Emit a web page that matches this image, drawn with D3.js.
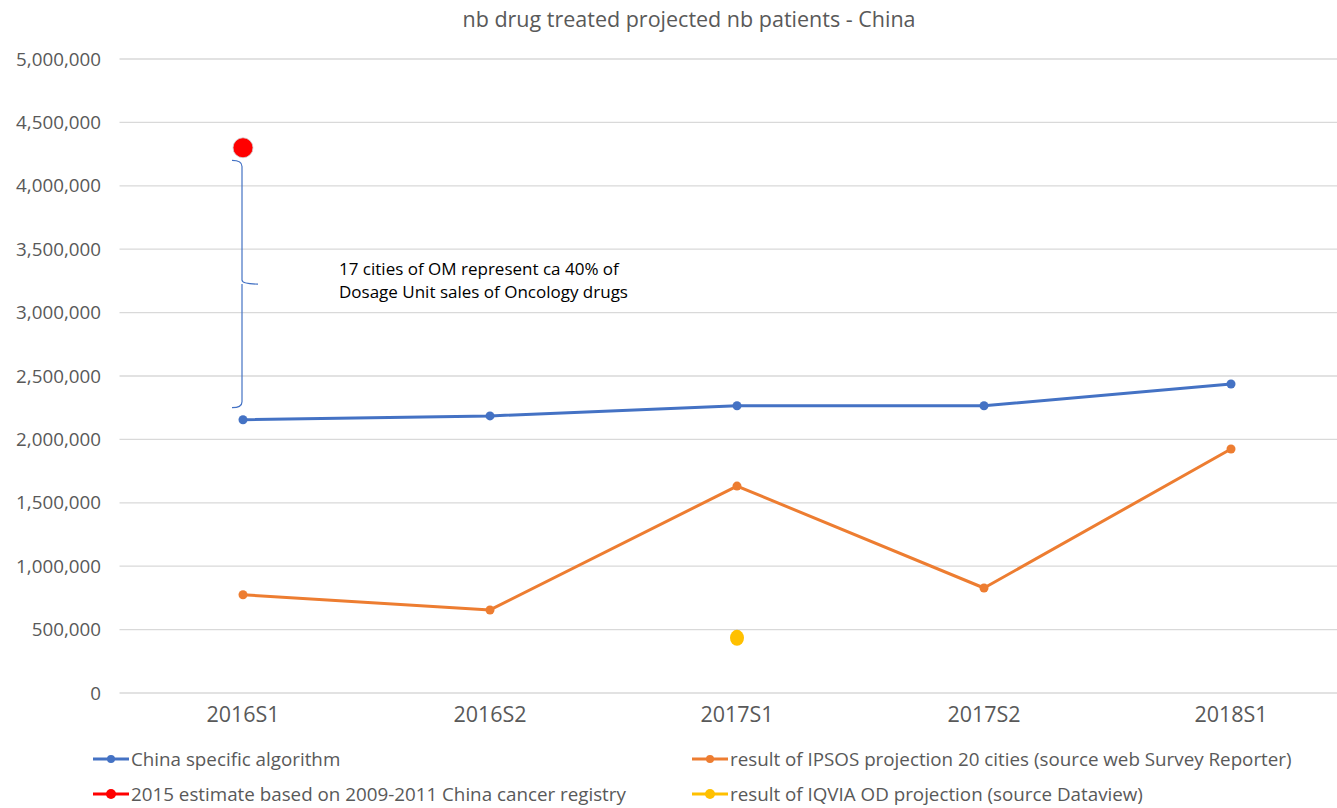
<!DOCTYPE html>
<html>
<head>
<meta charset="utf-8">
<script src="https://cdn.jsdelivr.net/npm/d3@7"></script>
<style>
  body { margin: 0; background: #fff; }
  svg text { font-family: "Open Sans", "Noto Sans", sans-serif; }
</style>
</head>
<body>
<svg id="chart" width="1337" height="808"></svg>
<script>
// data
const periods = ['2016S1', '2016S2', '2017S1', '2017S2', '2018S1']
const chinaAlgo = [2155000, 2185000, 2265000, 2265000, 2437000]
const ipsos = [775000, 655000, 1632000, 828000, 1924000]
const registry = [{period: '2016S1', value: 4300000}]
const iqvia = [{period: '2017S1', value: 435000}]
const yTicks = [0, 500000, 1000000, 1500000, 2000000, 2500000, 3000000, 3500000, 4000000, 4500000, 5000000]
const bracket = {period: '2016S1', from: 2250000, to: 4200000}
const note = ['17 cities of OM represent ca 40% of', 'Dosage Unit sales of Oncology drugs']

const legendItems = [
  {label: 'China specific algorithm', color: '#4472C4', r: 4},
  {label: 'result of IPSOS projection 20 cities (source web Survey Reporter)', color: '#ED7D31', r: 4},
  {label: '2015 estimate based on 2009-2011 China cancer registry', color: '#FF0000', r: 5},
  {label: 'result of IQVIA OD projection (source Dataview)', color: '#FFC000', r: 5}
]

const svg = d3.select('#chart')
const grey = '#595959'

let x = d3.scaleBand()
    .domain(periods)
    .range([119.5, 1354.5])

let y = d3.scaleLinear()
    .domain([0, 5000000])
    .range([693, 59])

const cx = d => x(d) + x.bandwidth() / 2

// title
svg.append('text')
    .attr('x', 689).attr('y', 27)
    .attr('text-anchor', 'middle')
    .attr('font-size', 21.5)
    .attr('fill', grey)
    .text('nb drug treated projected nb patients - China')

// grid
svg.append('g')
    .selectAll('line')
    .data(yTicks.slice(1))
    .enter().append('line')
    .attr('x1', 119.5).attr('x2', 1337)
    .attr('y1', d => y(d)).attr('y2', d => y(d))
    .attr('stroke', '#d9d9d9')
    .attr('stroke-width', 1.3)

// y axis
let yAxis = svg.append('g')
    .attr('transform', 'translate(101,0)')
    .call(d3.axisLeft(y).tickValues(yTicks).tickFormat(d3.format(',')).tickSize(0).tickPadding(0))
yAxis.select('.domain').remove()
yAxis.selectAll('text')
    .attr('font-size', 18.8)
    .attr('fill', grey)
    .style('font-family', '"Open Sans", sans-serif')

// x axis
let xAxis = svg.append('g')
    .attr('transform', 'translate(0,693)')
    .call(d3.axisBottom(x).tickSize(0).tickPadding(14))
xAxis.select('.domain')
    .attr('stroke', '#d9d9d9')
    .attr('stroke-width', 1.3)
    .attr('d', 'M119.5,0H1337')
xAxis.selectAll('text')
    .attr('font-size', 21.5)
    .attr('fill', grey)
    .style('font-family', '"Open Sans", sans-serif')

// bracket annotation
const bx = cx(bracket.period) - 1
const yTop = y(bracket.to), yBot = y(bracket.from), yMid = (yTop + yBot) / 2
svg.append('path')
    .attr('d', `M${bx - 10},${yTop} Q${bx},${yTop} ${bx},${yTop + 6} V${yMid - 4} Q${bx},${yMid} ${bx + 16},${yMid}
                M${bx},${yMid} V${yBot - 6} Q${bx},${yBot} ${bx - 10},${yBot}`)
    .attr('fill', 'none')
    .attr('stroke', '#4472C4')
    .attr('stroke-width', 1.2)

svg.append('g')
    .selectAll('text')
    .data(note)
    .enter().append('text')
    .attr('x', 339)
    .attr('y', (d, i) => 275 + i * 23)
    .attr('font-size', 17)
    .attr('fill', '#000')
    .text(d => d)

// lines
const line = d3.line()
    .x((d, i) => cx(periods[i]))
    .y(d => y(d))

const series = [
  {values: chinaAlgo, color: '#4472C4'},
  {values: ipsos, color: '#ED7D31'}
]

series.forEach(s => {
    svg.append('path')
        .datum(s.values)
        .attr('d', line)
        .attr('fill', 'none')
        .attr('stroke', s.color)
        .attr('stroke-width', 3)
        .attr('stroke-linejoin', 'round')
    svg.append('g')
        .selectAll('circle')
        .data(s.values)
        .enter().append('circle')
        .attr('cx', (d, i) => cx(periods[i]))
        .attr('cy', d => y(d))
        .attr('r', 4.5)
        .attr('fill', s.color)
})

svg.append('g')
    .selectAll('circle')
    .data(registry)
    .enter().append('circle')
    .attr('cx', d => cx(d.period))
    .attr('cy', d => y(d.value))
    .attr('r', 10)
    .attr('fill', '#FF0000')
    .attr('stroke', '#d0d0d0')
    .attr('stroke-width', 0.8)

svg.append('g')
    .selectAll('ellipse')
    .data(iqvia)
    .enter().append('ellipse')
    .attr('cx', d => cx(d.period))
    .attr('cy', d => y(d.value))
    .attr('rx', 7).attr('ry', 8)
    .attr('fill', '#FFC000')

// legend
const legendPos = [[93, 759], [692, 759], [93, 794], [692, 794]]
let lg = svg.append('g')
    .selectAll('g')
    .data(legendItems)
    .enter().append('g')
    .attr('transform', (d, i) => `translate(${legendPos[i][0]},${legendPos[i][1]})`)

lg.append('line')
    .attr('x1', 0).attr('x2', 36)
    .attr('stroke', d => d.color)
    .attr('stroke-width', 3)
lg.append('circle')
    .attr('cx', 18)
    .attr('r', d => d.r)
    .attr('fill', d => d.color)
lg.append('text')
    .attr('x', 38)
    .attr('dy', '0.35em')
    .attr('font-size', 18.8)
    .attr('fill', grey)
    .text(d => d.label)
</script>
</body>
</html>
